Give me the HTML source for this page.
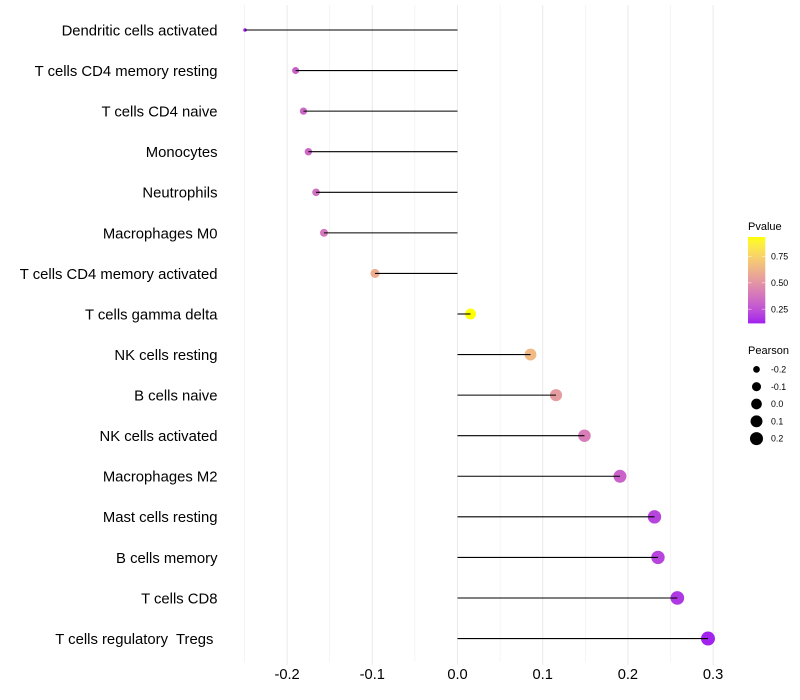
<!DOCTYPE html>
<html lang="en">
<head>
<meta charset="utf-8">
<title>Immune cell correlation lollipop chart</title>
<style>
html,body{margin:0;padding:0;background:#fff;}
svg{display:block;font-family:"Liberation Sans",Arial,sans-serif;}
text{white-space:pre;}
</style>
</head>
<body>
<svg id="chart" xmlns="http://www.w3.org/2000/svg" width="800" height="700" viewBox="0 0 800 700">
  <rect x="0" y="0" width="800" height="700" fill="#ffffff"/>
  <defs>
    <linearGradient id="pvalue-gradient" x1="0" y1="1" x2="0" y2="0"></linearGradient>
  </defs>
  <g id="grid"></g>
  <g id="points"></g>
  <g id="stems"></g>
  <g id="ylabels"></g>
  <g id="xlabels"></g>
  <g id="legend-color">
    <text x="748" y="230" font-size="11" fill="#000">Pvalue</text>
    <rect x="748" y="237" width="17.3" height="86.4" fill="url(#pvalue-gradient)"/>
  </g>
  <g id="legend-size">
    <text x="748" y="354" font-size="11" fill="#000">Pearson</text>
  </g>
</svg>
<script>
const categories = ["Dendritic cells activated","T cells CD4 memory resting","T cells CD4 naive","Monocytes","Neutrophils","Macrophages M0","T cells CD4 memory activated","T cells gamma delta","NK cells resting","B cells naive","NK cells activated","Macrophages M2","Mast cells resting","B cells memory","T cells CD8","T cells regulatory  Tregs "];
const pearson = [-0.2494,-0.19,-0.1808,-0.175,-0.166,-0.1567,-0.0968,0.0153,0.0857,0.1156,0.149,0.1907,0.2312,0.2353,0.258,0.294];
const pvalue = [0.115,0.30,0.33,0.33,0.36,0.39,0.60,0.935,0.65,0.525,0.41,0.31,0.21,0.21,0.17,0.12];
const xMajorTicks = [-0.2,-0.1,0.0,0.1,0.2,0.3];
const xMinorTicks = [-0.25,-0.15,-0.05,0.05,0.15,0.25];
const xTickLabels = ["-0.2","-0.1","0.0","0.1","0.2","0.3"];
const pvalueLegendTicks = [0.25,0.5,0.75];
const pvalueLegendLabels = ["0.25","0.50","0.75"];
const pearsonLegendValues = [-0.2,-0.1,0.0,0.1,0.2];
const pearsonLegendLabels = ["-0.2","-0.1","0.0","0.1","0.2"];

const NS = "http://www.w3.org/2000/svg";
function make(tag, attrs, parent, txt) {
  const el = document.createElementNS(NS, tag);
  for (const k in attrs) el.setAttribute(k, attrs[k]);
  if (txt !== undefined) el.textContent = txt;
  parent.appendChild(el);
  return el;
}
function xScale(v) { return 457.5 + v * 852; }
function yScale(i) { return 30 + i * 40.57; }

const sizeMin = Math.min.apply(null, pearson);
const sizeMax = Math.max.apply(null, pearson);
function radius(v) {
  const t = Math.max(0, (v - sizeMin) / (sizeMax - sizeMin));
  return 1.8 + 5.2 * Math.sqrt(t);
}

const pMin = Math.min.apply(null, pvalue);
const pMax = Math.max.apply(null, pvalue);
const pLow = [45.36, 78.73, -76.6];
const pHigh = [97.14, -21.56, 94.48];
function labToHex(L, a, b) {
  const fy = (L + 16) / 116, fx = fy + a / 500, fz = fy - b / 200;
  const inv = f => (f > 6 / 29 ? f * f * f : 3 * (6 / 29) * (6 / 29) * (f - 4 / 29));
  const X = 0.95047 * inv(fx), Y = inv(fy), Z = 1.08883 * inv(fz);
  const lin = [3.2406 * X - 1.5372 * Y - 0.4986 * Z, -0.9689 * X + 1.8758 * Y + 0.0415 * Z, 0.0557 * X - 0.204 * Y + 1.057 * Z];
  return "#" + lin.map(c => {
    c = Math.min(1, Math.max(0, c));
    const s = c <= 0.0031308 ? 12.92 * c : 1.055 * Math.pow(c, 1 / 2.4) - 0.055;
    return Math.round(s * 255).toString(16).padStart(2, "0");
  }).join("");
}
function rampAt(t) {
  return labToHex(pLow[0] + (pHigh[0] - pLow[0]) * t, pLow[1] + (pHigh[1] - pLow[1]) * t, pLow[2] + (pHigh[2] - pLow[2]) * t);
}
function colorOf(p) {
  return rampAt(Math.min(1, Math.max(0, (p - pMin) / (pMax - pMin))));
}

const grid = document.getElementById("grid");
xMinorTicks.forEach(function (v) {
  const el = make("line", {x1: xScale(v), x2: xScale(v), y1: 5, y2: 662, stroke: "#ebebeb", "stroke-width": 0.55}, grid);
  
  
});
xMajorTicks.forEach(function (v) {
  const el = make("line", {x1: xScale(v), x2: xScale(v), y1: 5, y2: 665, stroke: "#ebebeb", "stroke-width": 1.07}, grid);
  
  
});

const pointsG = document.getElementById("points");
const stemsG = document.getElementById("stems");
const yLabelsG = document.getElementById("ylabels");
categories.forEach(function (name, i) {
  const y = yScale(i);
  const cx = xScale(pearson[i]);
  const pt = make("circle", {cx: cx, cy: y, r: radius(pearson[i]), fill: colorOf(pvalue[i])}, pointsG);
  
  
  const stem = make("line", {x1: xScale(0), x2: cx, y1: y, y2: y, stroke: "#000", "stroke-width": 1.07}, stemsG);
  
  
  const label = make("text", {x: 217.5, y: y + 5.4, "text-anchor": "end", "font-size": 14.85, fill: "#000"}, yLabelsG, name);
  
  
});

const xLabelsG = document.getElementById("xlabels");
xMajorTicks.forEach(function (v, i) {
  const label = make("text", {x: xScale(v), y: 679, "text-anchor": "middle", "font-size": 14.67, fill: "#000"}, xLabelsG, xTickLabels[i]);
  
  
});

const gradient = document.getElementById("pvalue-gradient");
for (let s = 0; s <= 20; s++) {
  const stop = make("stop", {offset: (s / 20), "stop-color": rampAt(s / 20)}, gradient);
  
  
}
const legendColor = document.getElementById("legend-color");
function legendBarY(p) { return 323.4 - (p - pMin) / (pMax - pMin) * 86.4; }
pvalueLegendTicks.forEach(function (p, i) {
  const y = legendBarY(p);
  const left = make("line", {x1: 748, x2: 751.5, y1: y, y2: y, stroke: "#fff", "stroke-width": 0.6, "stroke-opacity": 0.8}, legendColor);
  
  
  const right = make("line", {x1: 761.8, x2: 765.3, y1: y, y2: y, stroke: "#fff", "stroke-width": 0.6, "stroke-opacity": 0.8}, legendColor);
  
  
  const label = make("text", {x: 771, y: y + 3.1, "font-size": 8.8, fill: "#000"}, legendColor, pvalueLegendLabels[i]);
  
  
});

const legendSize = document.getElementById("legend-size");
pearsonLegendValues.forEach(function (v, i) {
  const y = 369.4 + i * 17.3;
  const dot = make("circle", {cx: 756.5, cy: y, r: radius(v), fill: "#000"}, legendSize);
  
  
  const label = make("text", {x: 771, y: y + 3.1, "font-size": 8.8, fill: "#000"}, legendSize, pearsonLegendLabels[i]);
  
  
});
</script>
</body>
</html>
